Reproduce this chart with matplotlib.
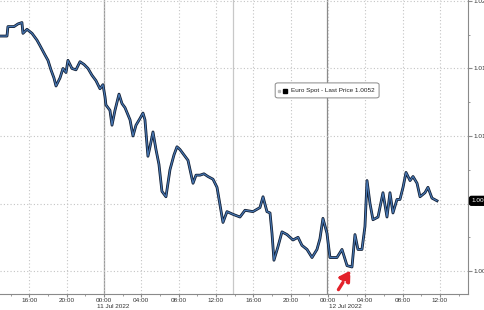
import matplotlib.pyplot as plt
from matplotlib.patches import FancyBboxPatch
from matplotlib.ticker import MultipleLocator

# === EUR/USD spot, hours relative to 00:00 11 Jul 2022 ===
hours = [-11.14, -10.39, -10.29, -9.64, -9.21, -8.79, -8.68, -8.25, -7.71, -7.18,
         -6.86, -6.32, -6.00, -5.68, -5.36, -5.14, -4.71, -4.39, -4.07, -3.86,
         -3.43, -3.00, -2.57, -2.14, -1.71, -1.29, -0.86, -0.43, -0.11, 0.11,
         0.21, 0.64, 0.86, 1.18, 1.61, 1.93, 2.25, 2.79, 3.11, 3.43,
         3.86, 4.18, 4.39, 4.71, 4.93, 5.25, 5.57, 5.89, 6.21, 6.64,
         7.07, 7.50, 7.82, 8.14, 8.57, 9.00, 9.54, 9.86, 10.29, 10.71,
         11.14, 11.68, 12.11, 12.43, 12.75, 13.18, 13.82, 14.57, 15.11, 15.96,
         16.71, 17.04, 17.46, 17.79, 18.00, 18.21, 18.64, 19.07, 19.61, 20.25,
         20.79, 21.21, 21.75, 22.29, 22.82, 23.14, 23.46, 23.89, 24.21, 24.96,
         25.50, 26.04, 26.57, 26.89, 27.21, 27.64, 27.96, 28.18, 28.50, 28.82,
         29.36, 29.89, 30.32, 30.64, 30.96, 31.39, 31.71, 32.04, 32.36, 32.79,
         33.11, 33.54, 33.86, 34.39, 34.71, 35.14, 35.68]
prices = [1.0174, 1.0174, 1.0181, 1.0181, 1.0183, 1.0184, 1.0176, 1.0179, 1.0176, 1.0171,
          1.0167, 1.0160, 1.0156, 1.0149, 1.0143, 1.0137, 1.0143, 1.0150, 1.0147, 1.0156,
          1.0150, 1.0149, 1.0155, 1.0153, 1.0150, 1.0145, 1.0141, 1.0135, 1.0138, 1.0129,
          1.0123, 1.0119, 1.0108, 1.0119, 1.0131, 1.0124, 1.0121, 1.0112, 1.0100, 1.0108,
          1.0113, 1.0117, 1.0112, 1.0085, 1.0092, 1.0103, 1.0090, 1.0079, 1.0059, 1.0055,
          1.0075, 1.0086, 1.0092, 1.0090, 1.0086, 1.0082, 1.0065, 1.0071, 1.0071, 1.0072,
          1.0070, 1.0068, 1.0062, 1.0049, 1.0036, 1.0044, 1.0042, 1.0040, 1.0045, 1.0044,
          1.0047, 1.0055, 1.0044, 1.0043, 1.0028, 1.0008, 1.0018, 1.0029, 1.0027, 1.0023,
          1.0025, 1.0019, 1.0016, 1.0010, 1.0016, 1.0024, 1.0039, 1.0028, 1.0010, 1.0010,
          1.0016, 1.0004, 1.0003, 1.0027, 1.0016, 1.0016, 1.0033, 1.0067, 1.0050, 1.0038,
          1.0040, 1.0058, 1.0040, 1.0058, 1.0043, 1.0053, 1.0053, 1.0062, 1.0073, 1.0067,
          1.0070, 1.0065, 1.0055, 1.0058, 1.0062, 1.0054, 1.0052]

last_price = 1.0052
x_ticks = [-8, -4, 0, 4, 8, 12, 16, 20, 24, 28, 32, 36]
x_tick_labels = ["16:00", "20:00", "00:00", "04:00", "08:00", "12:00",
                 "16:00", "20:00", "00:00", "04:00", "08:00", "12:00"]
y_ticks = [1.000, 1.005, 1.010, 1.015, 1.020]
y_tick_labels = ["1.000", "1.005", "1.010", "1.015", "1.020"]
day_labels = ["11 Jul 2022", "12 Jul 2022"]
day_starts = [-0.75, 24.1]
separators = [0, 13.82, 23.9]

plt.rcParams['font.family'] = ['Liberation Sans', 'DejaVu Sans']
FS = 4.6

fig = plt.figure(figsize=(4.85, 3.10), dpi=100)
ax = fig.add_axes([0, 16 / 310, 468 / 485, 294 / 310])

# grid + session separators
ax.set_xticks(x_ticks)
ax.set_xticklabels(x_tick_labels)
ax.set_yticks(y_ticks)
ax.set_yticklabels(y_tick_labels)
ax.xaxis.set_minor_locator(MultipleLocator(2))
ax.yaxis.set_minor_locator(MultipleLocator(0.0025))
ax.grid(True, which='major', linestyle=(0, (1, 2)), color='#c4c4c4', linewidth=0.8)
for s, c in zip(separators, ['#9a9a9a', '#c8c8c8', '#8a8a8a']):
    ax.axvline(s, color=c, linewidth=0.9, zorder=1)

# price line, dark edge with blue core
ax.plot(hours, prices, color='#0e1a2e', linewidth=2.0, zorder=3)
ax.plot(hours, prices, color='#4675b0', linewidth=0.9, zorder=4)

ax.set_xlim(-11.14, 39.0)
ax.set_ylim(0.99830, 1.02007)

for side in ['left', 'top']:
    ax.spines[side].set_visible(False)
for side in ['right', 'bottom']:
    ax.spines[side].set_color('#8a8a8a')
    ax.spines[side].set_linewidth(0.8)

ax.yaxis.tick_right()
ax.tick_params(axis='x', which='major', length=2, color='#8a8a8a', labelsize=FS,
               pad=0.8, labelcolor='#333333')
ax.tick_params(axis='x', which='minor', length=1.5, color='#8a8a8a')
ax.tick_params(axis='y', which='major', length=3, color='#8a8a8a', labelsize=FS,
               pad=1, labelcolor='#333333')
ax.tick_params(axis='y', which='minor', length=1.5, color='#8a8a8a')

for lbl, h in zip(day_labels, day_starts):
    ax.text(h, -13 / 294, lbl, transform=ax.get_xaxis_transform(), fontsize=FS,
            color='#333333', ha='left', va='center', clip_on=False)

# last price tag
ax.text(1.0075, last_price, f"{last_price:.4f}", transform=ax.get_yaxis_transform(),
        fontsize=FS, color='white', ha='left', va='center', clip_on=False,
        bbox=dict(boxstyle='round,pad=0.3', fc='black', ec='black'))

# legend box
ax.add_patch(FancyBboxPatch((0.588, 0.667), 0.222, 0.051, transform=ax.transAxes,
                            boxstyle='round,pad=0,rounding_size=0.006',
                            fc='white', ec='#888888', lw=0.7, zorder=6))
ax.text(0.622, 0.692, "Euro Spot - Last Price 1.0052", transform=ax.transAxes,
        fontsize=FS, color='#222222', ha='left', va='center', zorder=7)
ax.plot([0.610], [0.692], marker='s', markersize=3.4, color='black',
        transform=ax.transAxes, zorder=7)
ax.plot([0.597], [0.692], marker='s', markersize=1.8, color='#bbbbbb',
        transform=ax.transAxes, zorder=7)

# red arrow pointing to the low
ax.annotate("", xy=(26.57, 1.00022), xytext=(24.96, 0.99845),
            arrowprops=dict(arrowstyle='-|>,head_length=0.6,head_width=0.35',
                            color='#e3222b', lw=2.4, linestyle=(0, (2.5, 1.2))),
            zorder=8)

fig.savefig("out.png", dpi=100)
